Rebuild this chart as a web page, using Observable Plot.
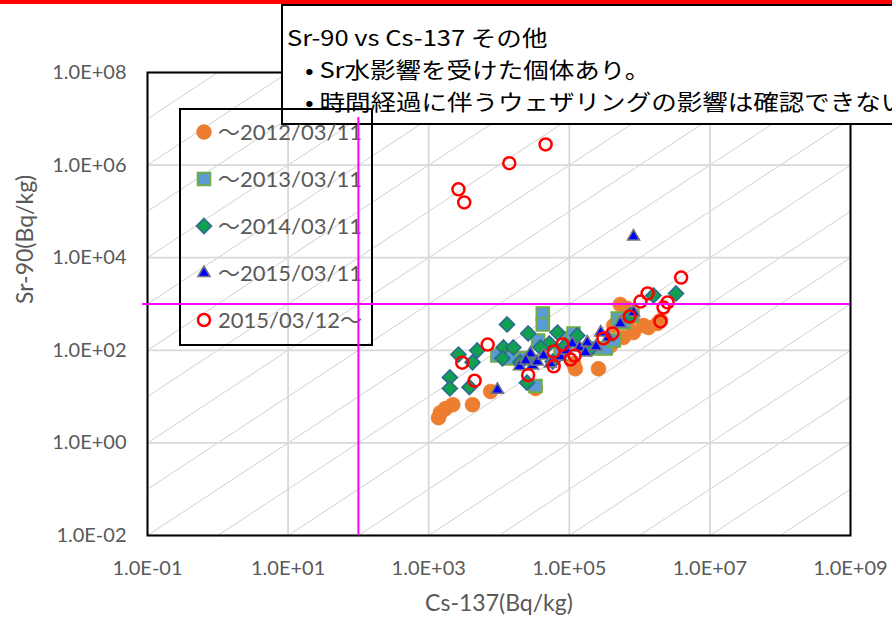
<!DOCTYPE html>
<html>
<head>
<meta charset="utf-8">
<script src="https://cdn.jsdelivr.net/npm/d3@7"></script>
<script src="https://cdn.jsdelivr.net/npm/@observablehq/plot@0.6"></script>
<style>
  html, body { margin: 0; padding: 0; background: #fff; }
  #wrap { position: relative; width: 892px; height: 625px; overflow: hidden; background: #fff;
          font-family: Lato, "Noto Sans CJK JP", sans-serif; }
  #chart, #overlay { position: absolute; left: 0; top: 0; }
  #overlay { pointer-events: none; }
  .topbar { position: absolute; left: 0; top: 0; width: 892px; height: 4px; background: #ff0000; }
  .titlebox { position: absolute; left: 281px; top: 4px; width: 700px; height: 121px; box-sizing: border-box;
              border: 2px solid #000; background: #fff; }
  .tline { position: absolute; white-space: nowrap; font-family: "Noto Sans CJK JP", sans-serif;
           font-size: 22px; line-height: 32px; color: #000; transform: scaleX(1.16); transform-origin: 0 50%; }
  .legend { position: absolute; left: 179px; top: 108px; width: 194px; height: 238px; box-sizing: border-box;
            border: 2px solid #000; background: transparent; }
  .lrow { position: absolute; white-space: nowrap; font-size: 22px; line-height: 30px; color: #595959; }
  .lsym { position: absolute; }
</style>
</head>
<body>
<div id="wrap">
  <div id="chart"></div>
  <div class="topbar"></div>
  <div class="titlebox"></div>
  <div id="titletext"></div>
  <div class="legend"></div>
  <div id="legendrows"></div>
  <div id="overlay"></div>
</div>
<script>
// ---------- data ----------
const seriesNames = ["～2012/03/11", "～2013/03/11", "～2014/03/11", "～2015/03/11", "2015/03/12～"];

const titleLines = ["Sr-90 vs Cs-137 その他", "• Sr水影響を受けた個体あり。", "• 時間経過に伴うウェザリングの影響は確認できない"];
const xTitle = "Cs-137(Bq/kg)";
const yTitle = "Sr-90(Bq/kg)";

const xTicks = [1e-1, 1e1, 1e3, 1e5, 1e7, 1e9];
const xTickLabels = ["1.0E-01", "1.0E+01", "1.0E+03", "1.0E+05", "1.0E+07", "1.0E+09"];
const yTicks = [1e-2, 1e0, 1e2, 1e4, 1e6, 1e8];
const yTickLabels = ["1.0E-02", "1.0E+00", "1.0E+02", "1.0E+04", "1.0E+06", "1.0E+08"];

// Sr/Cs ratio reference lines (one per decade)
const ratioLines = [1e-11, 1e-10, 1e-9, 1e-8, 1e-7, 1e-6, 1e-5, 1e-4, 1e-3, 1e-2, 1e-1, 1e0, 1e1, 1e2, 1e3, 1e4, 1e5, 1e6, 1e7, 1e8, 1e9];
// magenta reference levels
const refCs = [100];
const refSr = [1000];

// ～2012/03/11
const cs2012 = [1.38e3, 1.73e3, 2.2e3, 4.2e3, 7.6e3, 2.6e5, 1.15e5, 5.3e5, 6.7e5, 7.4e5, 1.14e6, 1.8e6, 1.34e6, 8.2e5, 5.9e5, 3.9e5, 3.3e4, 1.47e3, 1.22e5, 1.98e6, 4.3e5];
const sr2012 = [3.5, 5.5, 6.7, 6.7, 12.9, 40, 52, 975, 800, 486, 343, 379, 310, 242, 189, 127, 15, 4.5, 40, 440, 343];
// ～2013/03/11
const cs2013 = [4.2e4, 4.2e4, 9.5e3, 3.3e4, 9.7e4, 1.15e5, 3.3e5, 4.3e5, 4.9e5, 5.9e5, 7.9e5, 2.2e5, 2.0e4, 7.5e4, 1.46e4, 3.6e4];
const sr2013 = [623, 361, 77, 17, 180, 231, 109, 163, 486, 398, 565, 109, 67, 99, 67, 163];
// ～2014/03/11
const cs2014 = [1.3e4, 2.6e4, 6.8e4, 5.2e4, 2.65e3, 4.9e3, 4.2e3, 1.16e4, 1.6e4, 1.12e4, 2.0e3, 2.0e3, 3.8e3, 2.5e4, 1.3e5, 7.4e5, 1.58e6, 3.3e6, 3.0e4, 2.0e4, 5.8e4, 3.9e4, 2.0e5, 8.8e4];
const sr2014 = [361, 231, 242, 140, 81, 99, 55, 115, 115, 67, 26, 15, 16, 20, 209, 565, 1530, 1690, 60, 55, 57, 115, 109, 127];
// ～2015/03/11
const cs2015 = [8.2e5, 9.5e3, 2.8e4, 3.0e4, 3.5e4, 4.3e4, 5.4e4, 7.5e4, 1.1e5, 1.4e5, 1.8e5, 2.4e5, 2.8e5, 5.3e5, 8.2e5, 1.96e4, 9.1e4, 3.6e5, 1.7e5, 2.4e4];
const sr2015 = [2.87e4, 14, 85, 47, 57, 77, 52, 73, 140, 115, 147, 121, 242, 379, 655, 45, 99, 189, 90, 60];
// 2015/03/12～
const csAfter = [4.6e4, 1.4e4, 2.65e3, 3.2e3, 6.9e3, 3.0e3, 4.5e3, 2.6e4, 6.0e4, 6.0e4, 8.0e4, 1.04e5, 1.19e5, 3.06e5, 4.1e5, 7.2e5, 1.03e6, 1.3e6, 1.98e6, 2.19e6, 2.5e6, 3.9e6];
const srAfter = [2.8e6, 1.1e6, 3.0e5, 1.56e5, 133, 54, 22, 29, 94, 45, 133, 63, 77, 180, 231, 537, 1130, 1690, 419, 840, 1080, 3730];

// ---------- build ----------
const rows = (cs, sr) => cs.map((c, i) => ({cs: c, sr: sr[i]}));
const xDomain = [1e-1, 1e9], yDomain = [1e-2, 1e8];

// custom symbols: r = half extent
const rOf = size => Math.sqrt(size / Math.PI);
const symSquare = {draw(ctx, size) { const s = rOf(size); ctx.rect(-s, -s, 2 * s, 2 * s); }};
const symDiamond = {draw(ctx, size) { const s = rOf(size); ctx.moveTo(0, -s); ctx.lineTo(s, 0); ctx.lineTo(0, s); ctx.lineTo(-s, 0); ctx.closePath(); }};
const symTriangle = {draw(ctx, size) { const s = rOf(size); const h = s * Math.sqrt(3);
  ctx.moveTo(0, -2 * h / 3); ctx.lineTo(s, h / 3); ctx.lineTo(-s, h / 3); ctx.closePath(); }};

const styles = [
  {symbol: "circle", r: 7.5, fill: "#ED7D31", stroke: "#ED7D31", strokeWidth: 0.5},
  {symbol: symSquare, r: 6.3, fill: "#5B9BD5", stroke: "#70AD47", strokeWidth: 2},
  {symbol: symDiamond, r: 7.5, fill: "#10A050", stroke: "#2E6A90", strokeWidth: 1.6},
  {symbol: symTriangle, r: 6, fill: "#0000FF", stroke: "#6F7580", strokeWidth: 1.6},
  {symbol: "circle", r: 6, fill: "none", stroke: "#FF0000", strokeWidth: 2.5}
];
const seriesData = [rows(cs2012, sr2012), rows(cs2013, sr2013), rows(cs2014, sr2014), rows(cs2015, sr2015), rows(csAfter, srAfter)];

const xLab = new Map(xTicks.map((t, i) => [Math.round(Math.log10(t)), xTickLabels[i]]));
const yLab = new Map(yTicks.map((t, i) => [Math.round(Math.log10(t)), yTickLabels[i]]));

const common = {
  width: 892, height: 625,
  marginLeft: 147, marginRight: 42, marginTop: 72, marginBottom: 90,
  style: {fontFamily: "Lato, 'Noto Sans CJK JP', sans-serif", fontSize: "20px", color: "#595959", background: "transparent", overflow: "visible"}
};

// clipped ratio line endpoints
const ratioSegs = ratioLines.map(r => {
  const xa = Math.max(xDomain[0], yDomain[0] / r), xb = Math.min(xDomain[1], yDomain[1] / r);
  return {r, xa, xb};
}).filter(d => d.xa < d.xb);

const chart = Plot.plot({
  ...common,
  x: {type: "log", domain: xDomain, ticks: xTicks, tickFormat: d => xLab.get(Math.round(Math.log10(d))), tickSize: 0, tickPadding: 25, label: null},
  y: {type: "log", domain: yDomain, ticks: yTicks, tickFormat: d => yLab.get(Math.round(Math.log10(d))), tickSize: 0, tickPadding: 21, label: null},
  marks: [
    Plot.link(ratioSegs, {x1: "xa", y1: d => d.r * d.xa, x2: "xb", y2: d => d.r * d.xb, stroke: "#d0d0d0", strokeWidth: 1}),
    Plot.ruleX(xTicks, {stroke: "#d9d9d9", strokeWidth: 1.8}),
    Plot.ruleY(yTicks, {stroke: "#d9d9d9", strokeWidth: 1.8}),
    ...seriesData.map((data, i) => Plot.dot(data, {x: "cs", y: "sr", ...styles[i]})),
    Plot.frame({stroke: "#000", strokeWidth: 2}),
    Plot.text([xTitle], {text: d => d, frameAnchor: "bottom", dy: 75, fontSize: 23, fill: "#595959"}),
    Plot.text([yTitle], {text: d => d, frameAnchor: "left", dx: -122, rotate: -90, fontSize: 23, fill: "#595959"})
  ]
});
document.getElementById("chart").appendChild(chart);

const overlay = Plot.plot({
  ...common,
  x: {type: "log", domain: xDomain, axis: null},
  y: {type: "log", domain: yDomain, axis: null},
  marks: [
    Plot.ruleX(refCs, {y1: 1.07e7, y2: yDomain[0], stroke: "#FF00FF", strokeWidth: 2}),
    Plot.ruleY(refSr, {x1: 0.085, x2: xDomain[1], stroke: "#FF00FF", strokeWidth: 2})
  ]
});
document.getElementById("overlay").appendChild(overlay);

// title text
const tt = document.getElementById("titletext");
const tPos = [{left: 287, top: 20}, {left: 305, top: 52}, {left: 305, top: 84}];
titleLines.forEach((s, i) => {
  const d = document.createElement("div");
  d.className = "tline";
  d.style.left = tPos[i].left + "px";
  d.style.top = tPos[i].top + "px";
  d.textContent = s;
  tt.appendChild(d);
});

// legend
const lr = document.getElementById("legendrows");
const rowY = [132, 179, 226, 273, 320];
seriesNames.forEach((name, i) => {
  const st = styles[i];
  const svg = d3.create("svg").attr("class", "lsym").attr("width", 24).attr("height", 24)
    .style("left", (204 - 12) + "px").style("top", (rowY[i] - 12) + "px");
  const sym = typeof st.symbol === "string" ? d3.symbolCircle : st.symbol;
  svg.append("path").attr("transform", "translate(12,12)")
    .attr("d", d3.symbol(sym, Math.PI * st.r * st.r)())
    .attr("fill", st.fill).attr("stroke", st.stroke).attr("stroke-width", st.strokeWidth);
  lr.appendChild(svg.node());
  const t = document.createElement("div");
  t.className = "lrow";
  t.style.left = "218px";
  t.style.top = (rowY[i] - 15) + "px";
  t.textContent = name;
  lr.appendChild(t);
});
</script>
</body>
</html>
